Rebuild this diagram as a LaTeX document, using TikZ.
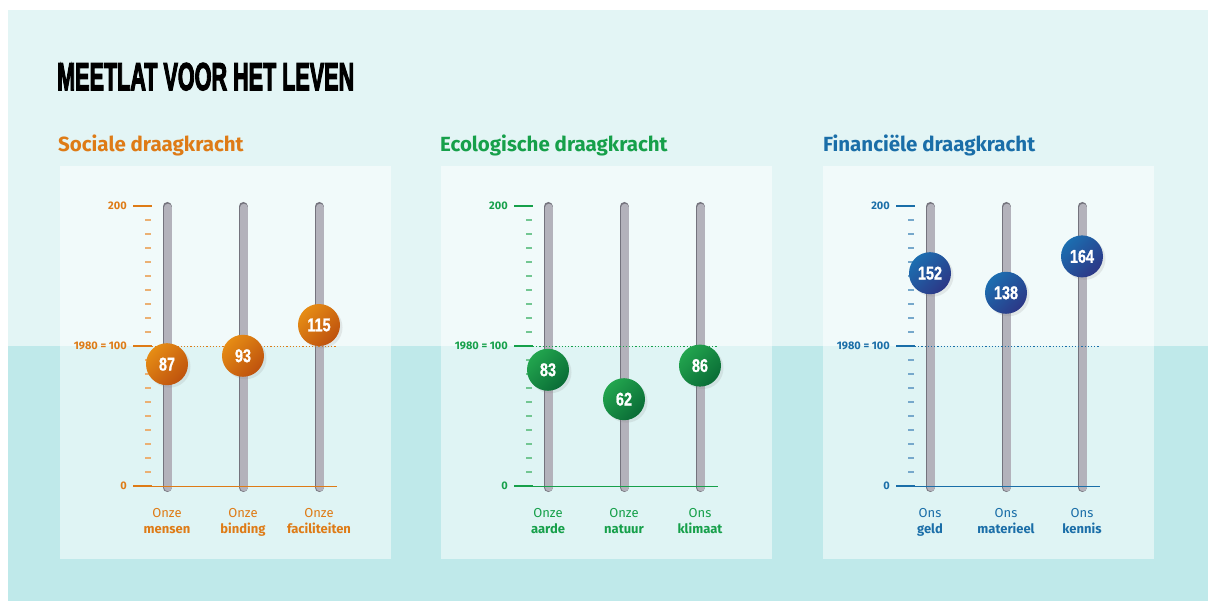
\documentclass[tikz,border=0pt]{standalone}
\usepackage{fontspec}
\usepackage{graphicx}
\setmainfont{Fira Sans}
\newfontfamily\numfont[FakeStretch=0.78,FakeBold=1]{Liberation Sans}
\newfontfamily\headfont[FakeBold=4]{Liberation Sans}
\usetikzlibrary{shadows}

\definecolor{bgTop}{HTML}{E3F5F5}
\definecolor{bgBot}{HTML}{BFE9EA}
\definecolor{socC}{HTML}{DE7B16}
\definecolor{ecoC}{HTML}{16A04A}
\definecolor{finC}{HTML}{1A6EA8}
\definecolor{socL}{HTML}{E68C14}
\definecolor{socD}{HTML}{BE520E}
\definecolor{ecoL}{HTML}{22A54E}
\definecolor{ecoD}{HTML}{0A6C36}
\definecolor{finL}{HTML}{1C6EB0}
\definecolor{finD}{HTML}{2C3786}
\definecolor{barG}{HTML}{B3B2BB}
\definecolor{barD}{HTML}{74737D}

\begin{document}
\begin{tikzpicture}[x=1pt,y=-1pt,
	ticklab/.style={anchor=east, inner sep=0pt, font=\bfseries\fontsize{11}{11}\selectfont},
	head/.style={anchor=base west, inner sep=0pt, font=\bfseries\fontsize{20.5}{20.5}\selectfont},
	lab/.style={anchor=base, inner sep=0pt, font=\fontsize{13}{13}\selectfont},
	labb/.style={anchor=base, inner sep=0pt, font=\bfseries\fontsize{13}{13}\selectfont},
	ball/.style={circle, minimum size=42pt, inner sep=0pt, text=white,
		font=\numfont\bfseries\fontsize{18.5}{18.5}\selectfont,
		drop shadow={shadow xshift=2.5pt, shadow yshift=-2.5pt, opacity=0.15}}]
			\useasboundingbox (0,0) rectangle (1208,601);
			\fill[bgTop] (8,10) rectangle (1208,346);
			\fill[bgBot] (8,346) rectangle (1208,601);
			
			\node[anchor=base west, inner sep=0pt] (title) at (57,90)
				{\resizebox{297pt}{27pt}{\headfont\bfseries MEETLAT VOOR HET LEVEN}};
			
			\node[head, text=socC] (soc) at (58,152) {Sociale draagkracht};
			\node[head, text=ecoC] (eco) at (440,152) {Ecologische draagkracht};
			\node[head, text=finC] (fin) at (823,152) {Financiële draagkracht};
			
			\foreach \dx/\c in {0/socC, 381/ecoC, 763/finC}
			{
				\fill[white, opacity=0.5] ({60+\dx},166) rectangle ({391+\dx},559);
				
				\foreach \v in {10,20,...,90,110,120,...,190}
					\draw[draw=\c!60, line width=1.6pt] ({145+\dx},{486-1.4*\v}) -- ({151+\dx},{486-1.4*\v});
				\foreach \v in {0,100,200}
					\draw[draw=\c, line width=1.4pt] ({133+\dx},{486-1.4*\v}) -- ({152+\dx},{486-1.4*\v});
				
				\node[ticklab, text=\c] (top\c) at ({127+\dx},206) {200};
				\node[ticklab, text=\c] (mid\c) at ({127+\dx},346) {1980 = 100};
				\node[ticklab, text=\c] (bot\c) at ({127+\dx},486) {0};
				
				\foreach \bx in {167,243,319}
				{
					\draw[barD, line width=9pt, line cap=round] ({\bx+\dx},206.5) -- ({\bx+\dx},487.5);
					\draw[barG, line width=7.6pt, line cap=round] ({\bx+\dx+0.7},207.5) -- ({\bx+\dx+0.7},487.5);
				}
				
				\draw[draw=\c, line width=0.9pt] ({152+\dx},486) -- ({337+\dx},486);
				\draw[draw=\c, line width=0.9pt, dash pattern=on 1.2pt off 2pt] ({152+\dx},346) -- ({337+\dx},346);
			}
			
			\foreach \x/\v/\c/\w/\n in {167/87/soc/Onze/mensen, 243/93/soc/Onze/binding, 319/115/soc/Onze/faciliteiten,
				548/83/eco/Onze/aarde, 624/62/eco/Onze/natuur, 700/86/eco/Ons/klimaat,
				930/152/fin/Ons/geld, 1006/138/fin/Ons/materieel, 1082/164/fin/Ons/kennis}
			{
				\node[ball, top color=\c L, bottom color=\c D, shading angle=45] (b\x) at (\x,{486-1.4*\v}) {\v};
				\node[lab, text=\c C] (w\x) at (\x,518) {\w};
				\node[labb, text=\c C] (n\x) at (\x,533) {\n};
			}
		\end{tikzpicture}
\end{document}
